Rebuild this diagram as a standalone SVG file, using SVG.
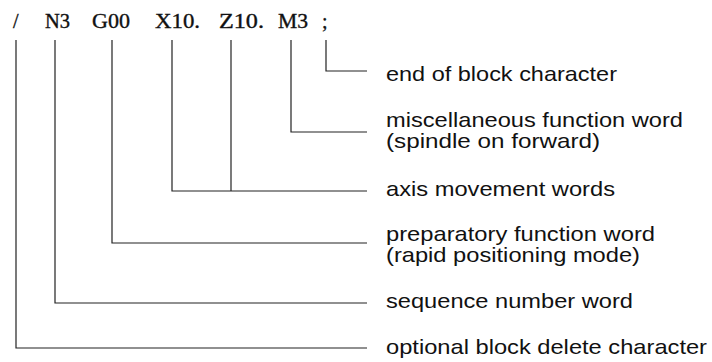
<svg xmlns="http://www.w3.org/2000/svg" width="712" height="362" viewBox="0 0 712 362">
<style>
.code{font-family:"Liberation Serif","DejaVu Serif",serif;font-size:20px;fill:#111;stroke:#111;stroke-width:0.35;}
.lbl{font-family:"Liberation Sans",Arial,sans-serif;font-size:21px;fill:#111;}
.ln{fill:none;stroke:#222;stroke-width:1.2;}
</style>
<rect width="712" height="362" fill="#fff"/>
<g id="code">
<text class="code" x="13" y="28">/</text>
<text class="code" x="45" y="28" textLength="25" lengthAdjust="spacingAndGlyphs">N3</text>
<text class="code" x="92" y="28" textLength="38" lengthAdjust="spacingAndGlyphs">G00</text>
<text class="code" x="155" y="28" textLength="45" lengthAdjust="spacingAndGlyphs">X10.</text>
<text class="code" x="219" y="28" textLength="45" lengthAdjust="spacingAndGlyphs">Z10.</text>
<text class="code" x="278" y="28" textLength="30" lengthAdjust="spacingAndGlyphs">M3</text>
<text class="code" x="322" y="28">;</text>
</g>
<g id="connectors">
<path class="ln" d="M326 40V71H367"/>
<path class="ln" d="M291 40V132H367"/>
<path class="ln" d="M231 40V191"/>
<path class="ln" d="M172 40V191H367"/>
<path class="ln" d="M112 40V243H367"/>
<path class="ln" d="M55 40V303H367"/>
<path class="ln" d="M16 40V348H367"/>
</g>
<g id="end-of-block">
<text class="lbl" x="386" y="81" textLength="231" lengthAdjust="spacingAndGlyphs">end of block character</text>
</g>
<g id="misc-function">
<text class="lbl" x="386" y="127" textLength="297" lengthAdjust="spacingAndGlyphs">miscellaneous function word</text>
<text class="lbl" x="386" y="148" textLength="214" lengthAdjust="spacingAndGlyphs">(spindle on forward)</text>
</g>
<g id="axis-movement">
<text class="lbl" x="386" y="196" textLength="229" lengthAdjust="spacingAndGlyphs">axis movement words</text>
</g>
<g id="preparatory-function">
<text class="lbl" x="386" y="241" textLength="269" lengthAdjust="spacingAndGlyphs">preparatory function word</text>
<text class="lbl" x="386" y="262" textLength="254" lengthAdjust="spacingAndGlyphs">(rapid positioning mode)</text>
</g>
<g id="sequence-number">
<text class="lbl" x="386" y="308" textLength="247" lengthAdjust="spacingAndGlyphs">sequence number word</text>
</g>
<g id="block-delete">
<text class="lbl" x="386" y="354" textLength="321" lengthAdjust="spacingAndGlyphs">optional block delete character</text>
</g>
</svg>
